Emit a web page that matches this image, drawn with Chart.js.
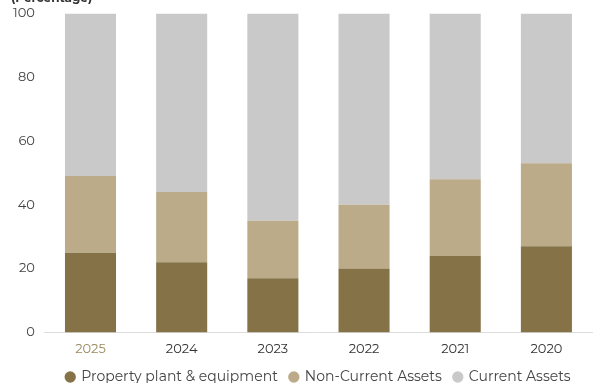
<!DOCTYPE html>
<html>
<head>
    <title>Asset composition</title>
    <script src="https://cdn.jsdelivr.net/npm/chart.js"></script>
    <style>
        body { margin: 0; background: #fff; overflow: hidden; }
        #wrap { position: absolute; left: 0; top: -9px; width: 596px; height: 403px; }
    </style>
</head>
<body>
    <div id="wrap"><canvas id="myChart"></canvas></div>
    <script>
        // years, newest first
        const years = ['2025', '2024', '2023', '2022', '2021', '2020'];
        // share of total assets, %
        const ppe = [25, 22, 17, 20, 24, 27];
        const nonCurrent = [24, 22, 18, 20, 24, 26];
        const current = [51, 56, 65, 60, 52, 47];
        const yTicks = [0, 20, 40, 60, 80, 100];

        const font = 'Montserrat, Lato, "Open Sans", sans-serif';

        // put the legend under the middle of the plot, not the whole canvas
        const centerLegend = {
            id: 'centerLegend',
            afterLayout(chart) {
                const lg = chart.legend, area = chart.chartArea;
                const shift = (area.left + area.right) / 2 - (lg.left + lg.right) / 2;
                lg.left += shift;
                lg.right += shift;
            }
        };

        const ctx = document.getElementById('myChart').getContext('2d');
        const chart = new Chart(ctx, {
            type: 'bar',
            data: {
                labels: years,
                datasets: [
                    { label: 'Property plant & equipment', data: ppe, backgroundColor: '#857347' },
                    { label: 'Non-Current Assets', data: nonCurrent, backgroundColor: '#bcab88' },
                    { label: 'Current Assets', data: current, backgroundColor: '#c9c9c9' }
                ]
            },
            options: {
                responsive: true,
                maintainAspectRatio: false,
                animation: false,
                datasets: { bar: { barPercentage: 0.56, categoryPercentage: 1 } },
                layout: { padding: { left: 11, right: 4, top: 0, bottom: 0 } },
                plugins: {
                    title: {
                        display: true,
                        text: '(Percentage)',
                        align: 'start',
                        color: '#333',
                        font: { family: font, size: 12 },
                        padding: { top: 0, bottom: 8 }
                    },
                    legend: {
                        position: 'bottom',
                        labels: {
                            usePointStyle: true,
                            pointStyle: 'circle',
                            boxWidth: 8,
                            boxHeight: 8,
                            padding: 12,
                            color: '#444',
                            font: { family: font, size: 14 }
                        }
                    },
                    tooltip: { enabled: false }
                },
                scales: {
                    x: {
                        stacked: true,
                        grid: { display: false },
                        border: { color: '#ddd' },
                        ticks: {
                            color: (c) => c.index === 0 ? '#9a8a5e' : '#333',
                            font: { family: font, size: 13 },
                            padding: 1
                        }
                    },
                    y: {
                        stacked: true,
                        min: 0,
                        max: 100,
                        afterBuildTicks: (axis) => { axis.ticks = yTicks.map(v => ({ value: v })); },
                        grid: { display: false },
                        border: { display: false },
                        ticks: {
                            color: '#444',
                            font: { family: font, size: 13 },
                            padding: 2
                        }
                    }
                }
            },
            plugins: [centerLegend]
        });
    </script>
</body>
</html>
